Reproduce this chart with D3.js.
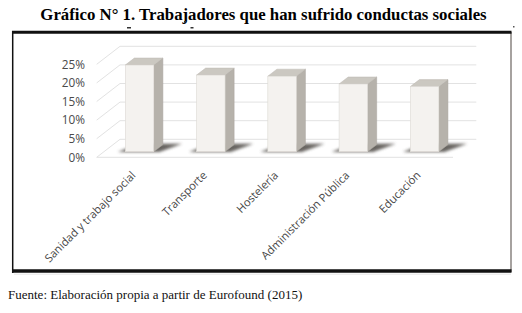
<!DOCTYPE html>
<html><head><meta charset="utf-8">
<script src="https://cdn.jsdelivr.net/npm/d3@7"></script>
<style>html,body{margin:0;padding:0;background:#fff;}svg{display:block;}</style>
</head><body>
<svg id="chart" width="522" height="313"></svg>
<script>
const categories = ["Sanidad y trabajo social","Transporte","Hostelería","Administración Pública","Educación"];
const values = [23.3, 20.6, 20.3, 18.2, 17.5];
const yTicks = [0, 5, 10, 15, 20, 25];
const titleText = "Gráfico N° 1. Trabajadores que han sufrido conductas sociales";
const sourceText = "Fuente: Elaboración propia a partir de Eurofound (2015)";

const svg = d3.select("#chart");
const defs = svg.append("defs");
defs.append("filter").attr("id","blur").attr("x","-30%").attr("y","-80%").attr("width","160%").attr("height","260%")
  .append("feGaussianBlur").attr("stdDeviation",1.6);

// 3D geometry
const depthX = 23.3, depthY = -18;
const y = d3.scaleLinear().domain([0,25]).range([157.3, 64.3]);
const x = d3.scaleBand().domain(categories).range([96.7, 453]).paddingInner(0.6).paddingOuter(0.3);
const P = (px, v, z) => [px + z*depthX, y(v) + z*depthY];
const z0 = 0.31, z1 = 0.70;

// Title
svg.append("text").attr("x",263.5).attr("y",20).attr("text-anchor","middle")
  .attr("font-family","'Liberation Serif','Times New Roman',serif").attr("font-weight","bold")
  .attr("font-size",16.8).attr("fill","#000").text(titleText);
// fragments of cut second title line
svg.append("rect").attr("x",127).attr("y",27).attr("width",4).attr("height",1.5).attr("fill","#333");
svg.append("rect").attr("x",184).attr("y",21).attr("width",2).attr("height",1.5).attr("fill","#333");
svg.append("rect").attr("x",190.5).attr("y",27).attr("width",3).attr("height",1.5).attr("fill","#333");
svg.append("rect").attr("x",513).attr("y",26).attr("width",1.5).attr("height",1.5).attr("fill","#555");

// Frame
svg.append("rect").attr("x",12.5).attr("y",32.5).attr("width",498.5).attr("height",238.5).attr("fill","#fff");
svg.append("line").attr("x1",12.7).attr("x2",12.7).attr("y1",31).attr("y2",273).attr("stroke","#111").attr("stroke-width",1.5);
svg.append("line").attr("x1",511).attr("x2",511).attr("y1",32).attr("y2",272).attr("stroke","#6b6460").attr("stroke-width",1.2);
svg.append("line").attr("x1",12).attr("x2",511.5).attr("y1",32.3).attr("y2",32.3).attr("stroke","#111").attr("stroke-width",3);
svg.append("line").attr("x1",12).attr("x2",511.5).attr("y1",271).attr("y2",271).attr("stroke","#111").attr("stroke-width",3.4);
svg.append("line").attr("x1",14).attr("x2",511).attr("y1",274.2).attr("y2",274.2).attr("stroke","#e6e6e6").attr("stroke-width",1);

// Gridlines (back wall) and left wall diagonals
const [xl, xr] = x.range();
const grid = svg.append("g").attr("stroke","#e2e2e2").attr("stroke-width",1).attr("fill","none");
yTicks.forEach(t => {
  const a = P(xl, t, 1), b = P(xr, t, 1), c = P(xl, t, 0);
  grid.append("line").attr("x1",a[0]).attr("y1",a[1]).attr("x2",b[0]).attr("y2",b[1]);
  grid.append("line").attr("x1",c[0]).attr("y1",c[1]).attr("x2",a[0]).attr("y2",a[1]);
});
// floor front edge
grid.append("line").attr("x1",xl).attr("y1",y(0)).attr("x2",xr).attr("y2",y(0));

// Y axis labels
svg.append("g").selectAll("text").data(yTicks).join("text")
  .attr("x",85).attr("y",d=>y(d)+4.2).attr("text-anchor","end")
  .attr("font-family","'Open Sans',sans-serif").attr("font-size",11.8).attr("fill","#4a4a4a")
  .text(d=>d3.format(".0%")(d/100));

// Bars
const bars = svg.append("g");
categories.forEach((cat,i) => {
  const v = values[i], bx = x(cat), w = x.bandwidth();
  const poly = pts => pts.map(p=>p.join(",")).join(" ");
  // shadow
  bars.append("polygon").attr("points", poly([P(bx-7,0,z0-0.02),P(bx+w+6,0,z0-0.02),P(bx+w+18,0,z1+0.05),P(bx+3,0,z1+0.05)]))
    .attr("fill","#4d4a45").attr("opacity",0.85).attr("filter","url(#blur)");
  // side face
  bars.append("polygon").attr("points", poly([P(bx+w,0,z0),P(bx+w,0,z1),P(bx+w,v,z1),P(bx+w,v,z0)]))
    .attr("fill","#b6b2ab").attr("stroke","#a9a59e").attr("stroke-width",0.5);
  // top face
  bars.append("polygon").attr("points", poly([P(bx,v,z0),P(bx+w,v,z0),P(bx+w,v,z1),P(bx,v,z1)]))
    .attr("fill","#cbc8c1").attr("stroke","#bdb9b2").attr("stroke-width",0.5);
  // front face
  const f0 = P(bx,v,z0), f1 = P(bx+w,0,z0);
  bars.append("rect").attr("x",f0[0]).attr("y",f0[1]).attr("width",f1[0]-f0[0]).attr("height",f1[1]-f0[1])
    .attr("fill","#f4f2ef").attr("stroke","#dcd9d4").attr("stroke-width",0.6);
});

// Category labels
svg.append("g").selectAll("text").data(categories).join("text")
  .attr("transform", d => `translate(${x(d)+x.bandwidth()/2+4},176) rotate(-45)`)
  .attr("text-anchor","end")
  .attr("font-family","'Open Sans',sans-serif").attr("font-size",11.2).attr("fill","#474747")
  .text(d=>d);

// Source
svg.append("text").attr("x",8).attr("y",299)
  .attr("font-family","'Liberation Serif','Times New Roman',serif").attr("font-size",13).attr("fill","#111")
  .text(sourceText);
</script>
</body></html>
